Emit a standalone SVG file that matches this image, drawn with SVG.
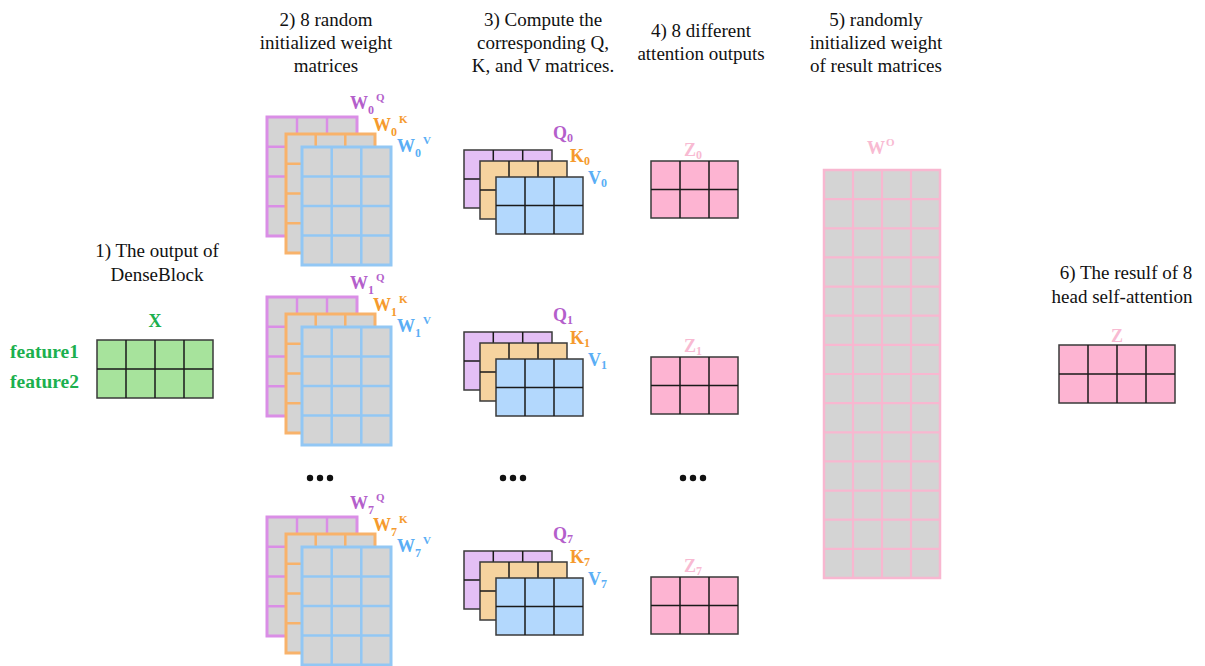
<svg xmlns="http://www.w3.org/2000/svg" xmlns:xlink="http://www.w3.org/1999/xlink" width="1205" height="666" viewBox="0 0 1205 666">
<style>
.cap{font-family:"Liberation Serif","Times New Roman",serif;font-size:19px;fill:#111;text-anchor:middle}
.b{font-family:"Liberation Serif","Times New Roman",serif;font-weight:bold;font-size:18px}
.sub{font-size:12px}
.sup{font-size:11px}
.pu{fill:#B45FCB}.or{fill:#F59A2E}.bl{fill:#5AAEF5}.pk{fill:#F8BAD2}.gr{fill:#1CB04E}
.wp{fill:#D4D4D4;stroke:#DA8EE6;stroke-width:3}
.wo{fill:#D4D4D4;stroke:#F8B26A;stroke-width:3}
.wb{fill:#D4D4D4;stroke:#92C7F4;stroke-width:3}
.gp{fill:none;stroke:#DA8EE6;stroke-width:2.5}
.go{fill:none;stroke:#F8B26A;stroke-width:2.5}
.gb{fill:none;stroke:#92C7F4;stroke-width:2.5}
.m{stroke:#3a3a3a;stroke-width:1.5}
.ml{fill:none;stroke:#1a1a1a;stroke-width:1.5}
.dot{fill:#111}
</style>
<defs>
<g id="wst">
<rect class="wp" x="267" y="117" width="90" height="119"/>
<path class="gp" d="M297 117V236M327 117V236M267 146.75H357M267 176.5H357M267 206.25H357"/>
<rect class="wo" x="286" y="134" width="89" height="119"/>
<path class="go" d="M315.7 134V253M345.3 134V253M286 163.75H375M286 193.5H375M286 223.25H375"/>
<rect class="wb" x="302" y="147" width="89" height="118"/>
<path class="gb" d="M331.7 147V265M361.3 147V265M302 176.5H391M302 206H391M302 235.5H391"/>
</g>
<g id="qkv">
<rect class="m" fill="#E4BFF5" x="464" y="150" width="88" height="58"/>
<path class="ml" d="M493.3 150V208M522.7 150V208M464 179H552"/>
<rect class="m" fill="#F6D39F" x="480" y="161" width="87" height="58"/>
<path class="ml" d="M509 161V219M538 161V219M480 190H567"/>
<rect class="m" fill="#B3D8FD" x="496" y="177" width="87" height="57"/>
<path class="ml" d="M525 177V234M554 177V234M496 205.5H583"/>
</g>
<g id="zm">
<rect class="m" fill="#FDB4D2" x="651" y="161" width="87" height="57"/>
<path class="ml" d="M680 161V218M709 161V218M651 189.5H738"/>
</g>
<g id="dots">
<circle class="dot" cx="310" cy="478" r="3.2"/><circle class="dot" cx="320" cy="478" r="3.2"/><circle class="dot" cx="330" cy="478" r="3.2"/>
</g>
</defs>

<g id="captions">
<text class="cap" x="157" y="257">1) The output of</text>
<text class="cap" x="157" y="281">DenseBlock</text>
<text class="cap" x="326" y="26">2) 8 random</text>
<text class="cap" x="326" y="49">initialized weight</text>
<text class="cap" x="326" y="72">matrices</text>
<text class="cap" x="543" y="26">3) Compute the</text>
<text class="cap" x="543" y="49">corresponding Q,</text>
<text class="cap" x="543" y="72">K, and V matrices.</text>
<text class="cap" x="701" y="37">4) 8 different</text>
<text class="cap" x="701" y="60">attention outputs</text>
<text class="cap" x="876" y="26">5) randomly</text>
<text class="cap" x="876" y="49">initialized weight</text>
<text class="cap" x="876" y="72">of result matrices</text>
<text class="cap" x="1126" y="279">6) The resulf of 8</text>
<text class="cap" x="1122" y="303">head self-attention</text>
</g>

<g id="X">
<rect class="m" fill="#A7E39C" x="97" y="340" width="116" height="58"/>
<path class="ml" d="M126 340V398M155 340V398M184 340V398M97 369H213"/>
<text class="b gr" x="155" y="327" text-anchor="middle" font-size="17">X</text>
<text class="b gr" x="10" y="358" style="font-size:19.5px">feature1</text>
<text class="b gr" x="10" y="388" style="font-size:19.5px">feature2</text>
</g>

<g id="W0">
<use xlink:href="#wst"/>
<text class="b pu" x="350" y="109">W<tspan class="sub" dy="5">0</tspan><tspan class="sup" dx="2" dy="-13">Q</tspan></text>
<text class="b or" x="373" y="131">W<tspan class="sub" dy="5">0</tspan><tspan class="sup" dx="2" dy="-13">K</tspan></text>
<text class="b bl" x="397" y="152">W<tspan class="sub" dy="5">0</tspan><tspan class="sup" dx="2" dy="-13">V</tspan></text>
</g>
<g id="W1" transform="translate(0,180)">
<use xlink:href="#wst"/>
<text class="b pu" x="350" y="109">W<tspan class="sub" dy="5">1</tspan><tspan class="sup" dx="2" dy="-13">Q</tspan></text>
<text class="b or" x="373" y="131">W<tspan class="sub" dy="5">1</tspan><tspan class="sup" dx="2" dy="-13">K</tspan></text>
<text class="b bl" x="397" y="152">W<tspan class="sub" dy="5">1</tspan><tspan class="sup" dx="2" dy="-13">V</tspan></text>
</g>
<g id="W7" transform="translate(0,400)">
<use xlink:href="#wst"/>
<text class="b pu" x="350" y="109">W<tspan class="sub" dy="5">7</tspan><tspan class="sup" dx="2" dy="-13">Q</tspan></text>
<text class="b or" x="373" y="131">W<tspan class="sub" dy="5">7</tspan><tspan class="sup" dx="2" dy="-13">K</tspan></text>
<text class="b bl" x="397" y="152">W<tspan class="sub" dy="5">7</tspan><tspan class="sup" dx="2" dy="-13">V</tspan></text>
</g>

<g id="QKV0">
<use xlink:href="#qkv"/>
<text class="b pu" x="553" y="139">Q<tspan class="sub" dy="3">0</tspan></text>
<text class="b or" x="570" y="162">K<tspan class="sub" dy="3">0</tspan></text>
<text class="b bl" x="588" y="184">V<tspan class="sub" dy="3">0</tspan></text>
</g>
<g id="QKV1" transform="translate(0,182)">
<use xlink:href="#qkv"/>
<text class="b pu" x="553" y="139">Q<tspan class="sub" dy="3">1</tspan></text>
<text class="b or" x="570" y="162">K<tspan class="sub" dy="3">1</tspan></text>
<text class="b bl" x="588" y="184">V<tspan class="sub" dy="3">1</tspan></text>
</g>
<g id="QKV7" transform="translate(0,401)">
<use xlink:href="#qkv"/>
<text class="b pu" x="553" y="139">Q<tspan class="sub" dy="3">7</tspan></text>
<text class="b or" x="570" y="162">K<tspan class="sub" dy="3">7</tspan></text>
<text class="b bl" x="588" y="184">V<tspan class="sub" dy="3">7</tspan></text>
</g>

<g id="Z0">
<use xlink:href="#zm"/>
<text class="b pk" x="684" y="156">Z<tspan class="sub" dy="3">0</tspan></text>
</g>
<g id="Z1" transform="translate(0,196)">
<use xlink:href="#zm"/>
<text class="b pk" x="684" y="156">Z<tspan class="sub" dy="3">1</tspan></text>
</g>
<g id="Z7" transform="translate(0,416)">
<use xlink:href="#zm"/>
<text class="b pk" x="684" y="156">Z<tspan class="sub" dy="3">7</tspan></text>
</g>

<g id="ellipses">
<use xlink:href="#dots"/>
<use xlink:href="#dots" x="193"/>
<use xlink:href="#dots" x="373"/>
</g>

<g id="WO">
<rect x="824" y="170" width="116" height="408" fill="#D4D4D4" stroke="#F8B7D0" stroke-width="2.5"/>
<path fill="none" stroke="#F8B7D0" stroke-width="2.2" d="M853 170V578M882 170V578M911 170V578M824 199.14H940M824 228.29H940M824 257.43H940M824 286.57H940M824 315.71H940M824 344.86H940M824 374H940M824 403.14H940M824 432.29H940M824 461.43H940M824 490.57H940M824 519.71H940M824 548.86H940"/>
<text class="b pk" x="867" y="154">W<tspan class="sup" dy="-8" dx="1">O</tspan></text>
</g>

<g id="Zres">
<rect class="m" fill="#FDB4D2" x="1059" y="345" width="116" height="58"/>
<path class="ml" d="M1088 345V403M1117 345V403M1146 345V403M1059 374H1175"/>
<text class="b pk" x="1117" y="342" text-anchor="middle">Z</text>
</g>

<g id="connectors"></g>
</svg>
